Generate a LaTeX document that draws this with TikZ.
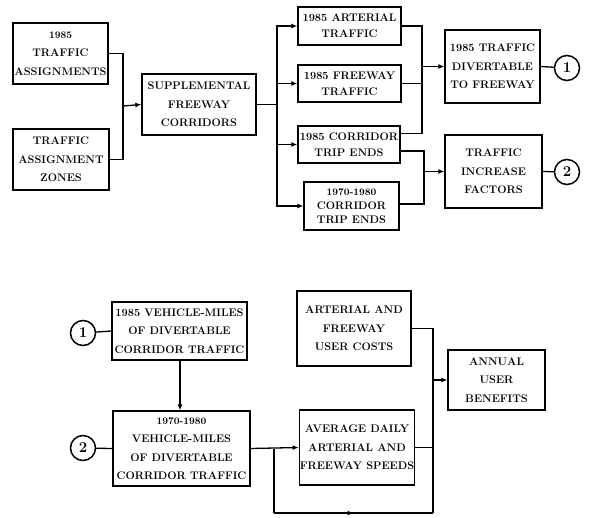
\documentclass[tikz,border=0pt]{standalone}
\usetikzlibrary{arrows.meta, decorations.markings}
\tikzstyle{block} = [
	rectangle,
	draw=black,
	line width=1.3pt,
	align=center,
	inner sep=0.5pt,
	font=\bfseries\fontsize{11}{18.5}\selectfont
]
\tikzstyle{tag} = [
	circle,
	draw=black,
	line width=1.5pt,
	minimum size=25pt,
	inner sep=0pt,
	font=\bfseries\fontsize{15}{15}\selectfont
]
\tikzstyle{line} = [line width=1.3pt]
\tikzstyle{arrow} = [line width=1.3pt,-{Latex[length=6pt,width=5pt]}]
\tikzstyle{midarrow} = [postaction={decorate}, decoration={markings, mark=at position 0.5 with {\arrow{Latex[length=6pt,width=5pt]}}}]
\newcommand{\yr}[1]{{\fontsize{10}{10}\selectfont #1}}

\begin{document}
\begin{tikzpicture}[x=1pt, y=-1pt]
	\useasboundingbox (0,0) rectangle (591,517);

	% upper chart
	\node (assign) [block, minimum width=95pt, minimum height=61pt] at (60.5,53.5) {\yr{1985}\\TRAFFIC\\ASSIGNMENTS};
	\node (zones) [block, minimum width=96pt, minimum height=61pt] at (61,159.5) {TRAFFIC\\ASSIGNMENT\\ZONES};
	\node (supp) [block, minimum width=114pt, minimum height=61pt] at (199,104.5) {SUPPLEMENTAL\\FREEWAY\\CORRIDORS};
	\node (art) [block, minimum width=103pt, minimum height=38pt, font=\bfseries\fontsize{11}{16}\selectfont] at (349.5,26) {1985 ARTERIAL\\TRAFFIC};
	\node (fwy) [block, minimum width=103pt, minimum height=37pt, font=\bfseries\fontsize{11}{16}\selectfont] at (349.5,83.5) {1985 FREEWAY\\TRAFFIC};
	\node (cor) [block, minimum width=102pt, minimum height=37pt, font=\bfseries\fontsize{11}{16}\selectfont] at (349,144.5) {1985 CORRIDOR\\TRIP ENDS};
	\node (old) [block, minimum width=95pt, minimum height=48pt, font=\bfseries\fontsize{11}{14}\selectfont] at (351.5,206) {\yr{1970-1980}\\CORRIDOR\\TRIP ENDS};
	\node (div) [block, minimum width=95pt, minimum height=73pt] at (492.5,66.5) {1985 TRAFFIC\\DIVERTABLE\\TO FREEWAY};
	\node (inc) [block, minimum width=97pt, minimum height=73pt] at (493.5,171.5) {TRAFFIC\\INCREASE\\FACTORS};
	\node (one) [tag] at (567,68) {1};
	\node (two) [tag] at (567,172) {2};

	\coordinate (busA) at (123,106);
	\coordinate (busS) at (277,104.5);
	\coordinate (busD) at (422,66.5);
	\coordinate (busI) at (424,171.5);

	\draw [line] (assign.east) -| (busA) |- (zones.east);
	\draw [arrow] (busA) -- (supp.west);
	\draw [line] (supp.east) -- (busS);
	\draw [arrow] (busS) |- (art.west);
	\draw [arrow] (busS) |- (fwy.west);
	\draw [arrow] (busS) |- (cor.west);
	\draw [arrow] (busS) |- (old.west);
	\draw [line] (art.east) -| (busD);
	\draw [line] (fwy.east) -| (busD);
	\draw [line] ([yshift=11pt]cor.east) -| (busD);
	\draw [arrow] (busD) -- (div.west);
	\draw [line] ([yshift=-6.5pt]cor.east) -| (busI) |- ([yshift=2pt]old.east);
	\draw [arrow] (busI) -- (inc.west);
	\draw [line] (div.east) -- (one);
	\draw [line] (inc.east) -- (two);

	% lower chart
	\node (onein) [tag] at (83,333) {1};
	\node (twoin) [tag] at (83,448) {2};
	\node (vmnow) [block, minimum width=135pt, minimum height=58pt] at (179.5,331) {1985 VEHICLE-MILES\\OF DIVERTABLE\\CORRIDOR TRAFFIC};
	\node (vmold) [block, minimum width=137pt, minimum height=75pt] at (181.5,448.5) {\yr{1970-1980}\\VEHICLE-MILES\\OF DIVERTABLE\\CORRIDOR TRAFFIC};
	\node (cost) [block, minimum width=114pt, minimum height=75pt] at (354,328.5) {ARTERIAL AND\\FREEWAY\\USER COSTS};
	\node (speed) [block, minimum width=114pt, minimum height=75pt] at (357,447.5) {AVERAGE DAILY\\ARTERIAL AND\\FREEWAY SPEEDS};
	\node (annual) [block, minimum width=97pt, minimum height=60pt] at (496.5,380) {ANNUAL\\USER\\BENEFITS};

	\coordinate (busV) at (274,448.5);
	\coordinate (low) at (274,513);
	\coordinate (busU) at (433,380);

	\draw [line] (onein) -- (vmnow.west);
	\draw [line] (twoin) -- (vmold.west);
	\draw [arrow] ([xshift=0.5pt]vmnow.south) -- ([xshift=0.5pt]vmnow.south |- vmold.north);
	\draw [arrow] (vmold.east) -- (speed.west);
	\draw [line] (busV) -- (low);
	\draw [line, midarrow] (low) -- (low -| busU);
	\draw [line] (low -| busU) |- (cost.east);
	\draw [line] (speed.east) -- (speed.east -| busU);
	\draw [arrow] (busU) -- (annual.west);
\end{tikzpicture}
\end{document}
